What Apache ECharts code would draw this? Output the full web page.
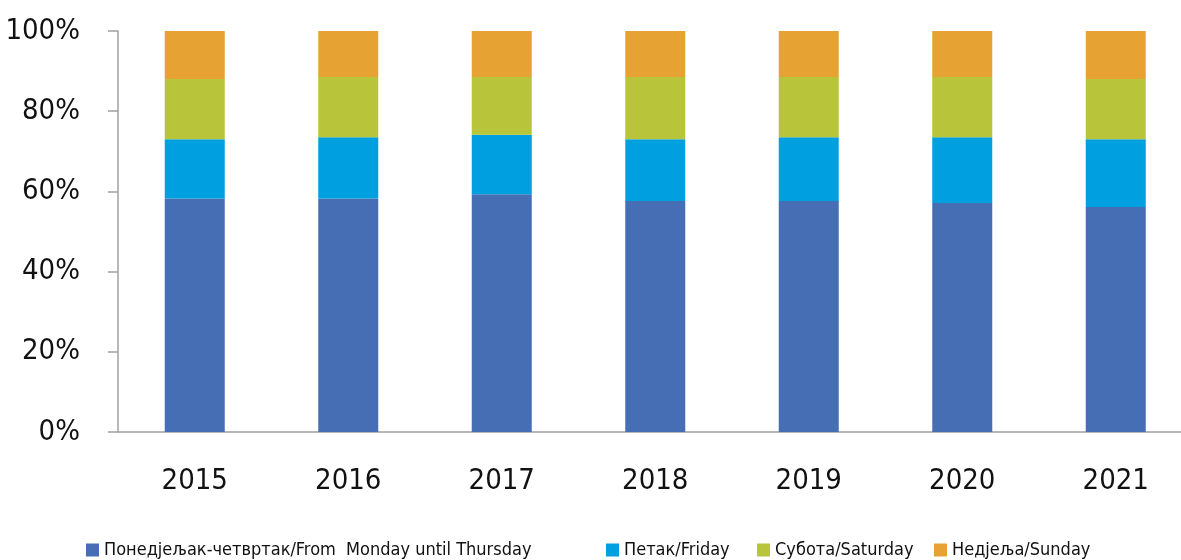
<!DOCTYPE html>
<html>
<head>
<meta charset="utf-8">
<script src="https://cdn.jsdelivr.net/npm/echarts@6/dist/echarts.min.js"></script>
<style>
  html, body { margin: 0; padding: 0; background: #fff; }
  #chart { width: 1181px; height: 560px; }
</style>
</head>
<body>
<div id="chart"></div>
<script>
const years = ['2015', '2016', '2017', '2018', '2019', '2020', '2021'];
const monThu = [58.2, 58.2, 59.3, 57.6, 57.6, 57.1, 56.1];
const friday = [14.8, 15.3, 14.8, 15.4, 15.9, 16.4, 16.9];
const saturday = [15.0, 15.0, 14.4, 15.5, 15.0, 15.0, 15.0];
const sunday = [12.0, 11.5, 11.5, 11.5, 11.5, 11.5, 12.0];
const seriesNames = [
  'Понедјељак-четвртак/From  Monday until Thursday',
  'Петак/Friday',
  'Субота/Saturday',
  'Недјеља/Sunday'
];
const colors = ['#466EB4', '#009FDF', '#B8C43A', '#E6A334'];

const font = '"DejaVu Sans Condensed", "Liberation Sans Narrow", sans-serif';
const axisColor = '#A0A0A0';

// one legend per item so the gaps can follow the reference
const legendLeft = [81, 601, 752, 929];
const legends = seriesNames.map((name, i) => ({
  data: [name],
  left: legendLeft[i],
  top: 536,
  itemWidth: 13,
  itemHeight: 13,
  itemGap: 0,
  icon: 'rect',
  textStyle: { fontFamily: font, fontSize: 18, color: '#111' }
}));

const chart = echarts.init(document.getElementById('chart'));
chart.setOption({
  animation: false,
  color: colors,
  legend: legends,
  grid: { left: 118, top: 31, width: 1074.5, height: 401, outerBoundsMode: 'none', containLabel: false },
  xAxis: {
    type: 'category',
    data: years,
    axisLine: { lineStyle: { color: axisColor, width: 1.5 } },
    axisTick: { show: false },
    axisLabel: { margin: 35, fontFamily: font, fontSize: 29, color: '#111' }
  },
  yAxis: {
    type: 'value',
    min: 0,
    max: 100,
    interval: 20,
    axisLine: { show: true, lineStyle: { color: axisColor, width: 1.5 } },
    axisTick: { show: true, length: 10, lineStyle: { color: axisColor, width: 1.5 } },
    splitLine: { show: false },
    axisLabel: {
      margin: 38,
      formatter: '{value}%',
      fontFamily: font,
      fontSize: 29,
      color: '#111'
    }
  },
  series: [monThu, friday, saturday, sunday].map((d, i) => ({
    name: seriesNames[i],
    type: 'bar',
    stack: 'total',
    barWidth: 60,
    data: d
  }))
});
</script>
</body>
</html>
